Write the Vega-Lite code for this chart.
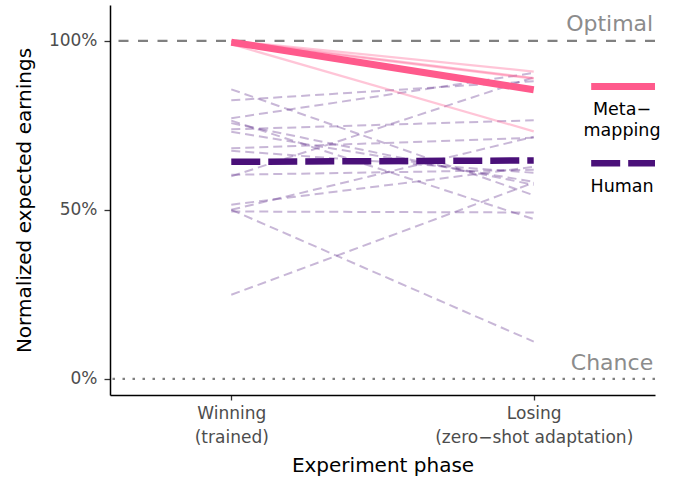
{
  "$schema": "https://vega.github.io/schema/vega-lite/v6.json",
  "width": 545,
  "height": 390,
  "autosize": {"type": "none"},
  "padding": {"left": 110, "top": 5, "right": 20, "bottom": 82},
  "config": {
    "view": {"stroke": null},
    "font": "DejaVu Sans",
    "axis": {
      "grid": false,
      "domainColor": "#000000",
      "domainWidth": 1.5,
      "tickColor": "#333333",
      "tickWidth": 1.3,
      "tickSize": 6,
      "labelColor": "#4d4d4d",
      "labelFont": "DejaVu Sans",
      "labelFontSize": 17,
      "labelLimit": 0,
      "titleFont": "DejaVu Sans",
      "titleFontSize": 20,
      "titleFontWeight": "normal",
      "titleColor": "#000000"
    }
  },
  "datasets": {
    "humans": [
      {"id": 1, "x": 1, "y": 0.8565}, {"id": 1, "x": 2, "y": 0.543},
      {"id": 2, "x": 1, "y": 0.824}, {"id": 2, "x": 2, "y": 0.8805},
      {"id": 3, "x": 1, "y": 0.771}, {"id": 3, "x": 2, "y": 0.905},
      {"id": 4, "x": 1, "y": 0.764}, {"id": 4, "x": 2, "y": 0.4725},
      {"id": 5, "x": 1, "y": 0.7565}, {"id": 5, "x": 2, "y": 0.574},
      {"id": 6, "x": 1, "y": 0.738}, {"id": 6, "x": 2, "y": 0.765},
      {"id": 7, "x": 1, "y": 0.731}, {"id": 7, "x": 2, "y": 0.583},
      {"id": 8, "x": 1, "y": 0.682}, {"id": 8, "x": 2, "y": 0.713},
      {"id": 9, "x": 1, "y": 0.6746}, {"id": 9, "x": 2, "y": 0.6095},
      {"id": 10, "x": 1, "y": 0.6036}, {"id": 10, "x": 2, "y": 0.6183},
      {"id": 11, "x": 1, "y": 0.599}, {"id": 11, "x": 2, "y": 0.892},
      {"id": 12, "x": 1, "y": 0.515}, {"id": 12, "x": 2, "y": 0.627},
      {"id": 13, "x": 1, "y": 0.5}, {"id": 13, "x": 2, "y": 0.716},
      {"id": 14, "x": 1, "y": 0.5}, {"id": 14, "x": 2, "y": 0.11},
      {"id": 15, "x": 1, "y": 0.495}, {"id": 15, "x": 2, "y": 0.492},
      {"id": 16, "x": 1, "y": 0.2485}, {"id": 16, "x": 2, "y": 0.58}
    ],
    "meta": [
      {"id": 1, "x": 1, "y": 1.0}, {"id": 1, "x": 2, "y": 0.909},
      {"id": 2, "x": 1, "y": 1.0}, {"id": 2, "x": 2, "y": 0.89},
      {"id": 3, "x": 1, "y": 0.997}, {"id": 3, "x": 2, "y": 0.888},
      {"id": 4, "x": 1, "y": 0.99}, {"id": 4, "x": 2, "y": 0.732}
    ],
    "humanMean": [{"x": 1, "y": 0.642}, {"x": 2, "y": 0.646}],
    "metaMean": [{"x": 1, "y": 0.996}, {"x": 2, "y": 0.855}],
    "legendMeta": [{"x": 2.19, "y": 0.865}, {"x": 2.401, "y": 0.865}],
    "legendHuman": [{"x": 2.19, "y": 0.638}, {"x": 2.401, "y": 0.638}],
    "legendText": [
      {"x": 2.292, "y": 0.781, "label": "Meta−"},
      {"x": 2.292, "y": 0.719, "label": "mapping"},
      {"x": 2.292, "y": 0.552, "label": "Human"}
    ],
    "refText": [
      {"x": 2.395, "y": 1.03, "label": "Optimal"},
      {"x": 2.395, "y": 0.027, "label": "Chance"}
    ]
  },
  "layer": [
    {
      "data": {"values": [{"y": 1}]},
      "mark": {"type": "rule", "color": "#808080", "strokeWidth": 2.2, "strokeDash": [10, 9.5]},
      "encoding": {
        "y": {"field": "y", "type": "quantitative", "title": "Normalized expected earnings",
              "scale": {"domain": [-0.048, 1.106], "nice": false, "zero": false},
              "axis": {"values": [0, 0.5, 1], "format": ".0%", "labelPadding": 7, "titlePadding": 14}}
      }
    },
    {
      "data": {"values": [{"y": 0}]},
      "mark": {"type": "rule", "color": "#808080", "strokeWidth": 2.2, "strokeDash": [2.5, 7.5]},
      "encoding": {
        "y": {"field": "y", "type": "quantitative", "title": "Normalized expected earnings"}
      }
    },
    {
      "data": {"name": "humans"},
      "mark": {"type": "line", "color": "#4a1079", "opacity": 0.3, "strokeWidth": 2, "strokeDash": [9, 5]},
      "encoding": {
        "x": {"field": "x", "type": "quantitative", "title": "Experiment phase",
              "scale": {"domain": [0.599, 2.401], "nice": false, "zero": false},
              "axis": {"values": [1, 2], "labelLineHeight": 24, "labelPadding": 5, "tickSize": 5, "titlePadding": 10,
                       "labelExpr": "datum.value == 1 ? ['Winning', '(trained)'] : ['Losing', '(zero−shot adaptation)']"}},
        "y": {"field": "y", "type": "quantitative", "title": "Normalized expected earnings"},
        "detail": {"field": "id", "type": "nominal"}
      }
    },
    {
      "data": {"name": "meta"},
      "mark": {"type": "line", "color": "#ff5a8c", "opacity": 0.35, "strokeWidth": 2.2},
      "encoding": {
        "x": {"field": "x", "type": "quantitative", "title": "Experiment phase"},
        "y": {"field": "y", "type": "quantitative", "title": "Normalized expected earnings"},
        "detail": {"field": "id", "type": "nominal"}
      }
    },
    {
      "data": {"name": "humanMean"},
      "mark": {"type": "line", "color": "#4a1079", "strokeWidth": 6.5, "strokeDash": [29, 8]},
      "encoding": {
        "x": {"field": "x", "type": "quantitative", "title": "Experiment phase"},
        "y": {"field": "y", "type": "quantitative", "title": "Normalized expected earnings"}
      }
    },
    {
      "data": {"name": "metaMean"},
      "mark": {"type": "line", "color": "#ff5a8c", "strokeWidth": 7},
      "encoding": {
        "x": {"field": "x", "type": "quantitative", "title": "Experiment phase"},
        "y": {"field": "y", "type": "quantitative", "title": "Normalized expected earnings"}
      }
    },
    {
      "data": {"name": "legendMeta"},
      "mark": {"type": "line", "color": "#ff5a8c", "strokeWidth": 7},
      "encoding": {
        "x": {"field": "x", "type": "quantitative", "title": "Experiment phase"},
        "y": {"field": "y", "type": "quantitative", "title": "Normalized expected earnings"}
      }
    },
    {
      "data": {"name": "legendHuman"},
      "mark": {"type": "line", "color": "#4a1079", "strokeWidth": 6.5, "strokeDash": [29, 8]},
      "encoding": {
        "x": {"field": "x", "type": "quantitative", "title": "Experiment phase"},
        "y": {"field": "y", "type": "quantitative", "title": "Normalized expected earnings"}
      }
    },
    {
      "data": {"name": "legendText"},
      "mark": {"type": "text", "align": "center", "baseline": "alphabetic", "fontSize": 17.5, "color": "#000000"},
      "encoding": {
        "x": {"field": "x", "type": "quantitative", "title": "Experiment phase"},
        "y": {"field": "y", "type": "quantitative", "title": "Normalized expected earnings"},
        "text": {"field": "label"}
      }
    },
    {
      "data": {"name": "refText"},
      "mark": {"type": "text", "align": "right", "baseline": "alphabetic", "fontSize": 22, "color": "#8c8c8c"},
      "encoding": {
        "x": {"field": "x", "type": "quantitative", "title": "Experiment phase"},
        "y": {"field": "y", "type": "quantitative", "title": "Normalized expected earnings"},
        "text": {"field": "label"}
      }
    }
  ]
}
